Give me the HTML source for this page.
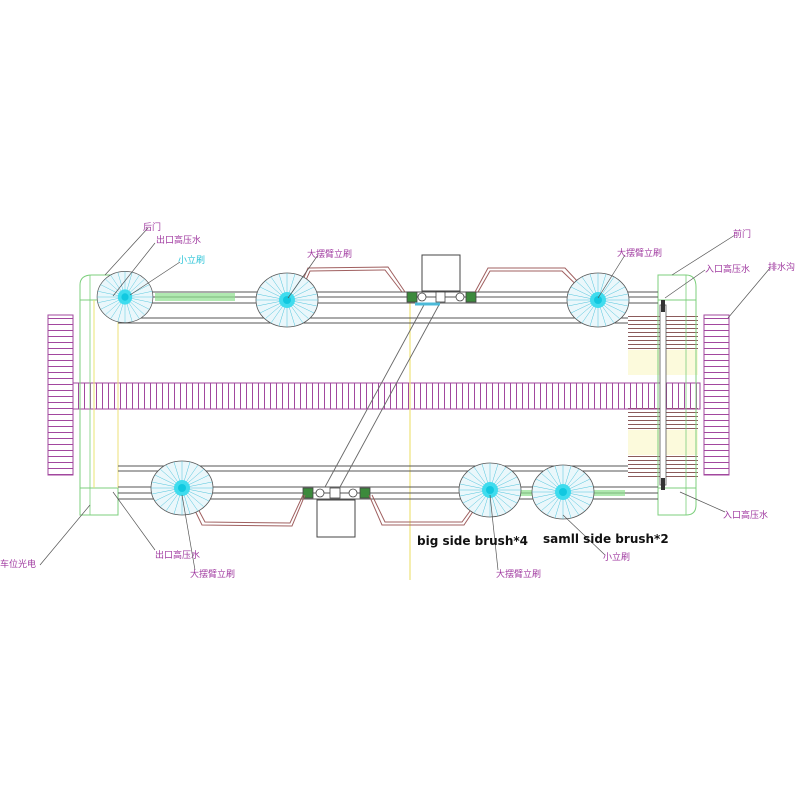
<!DOCTYPE html>
<html><head><meta charset="utf-8"><style>
html,body{margin:0;padding:0;background:#fff;width:800px;height:800px;overflow:hidden}
svg text{font-family:"Liberation Sans","Noto Sans CJK SC",sans-serif}
</style></head><body>
<svg width="800" height="800" viewBox="0 0 800 800" xmlns="http://www.w3.org/2000/svg">
<defs>
<pattern id="hh" width="10" height="6" patternUnits="userSpaceOnUse"><line x1="0" y1="0.5" x2="10" y2="0.5" stroke="#a2479e" stroke-width="1"/></pattern>
<pattern id="vv" width="6" height="10" patternUnits="userSpaceOnUse"><line x1="0.5" y1="0" x2="0.5" y2="10" stroke="#a2479e" stroke-width="1"/></pattern>
<pattern id="hb" width="10" height="4" patternUnits="userSpaceOnUse"><line x1="0" y1="0.5" x2="10" y2="0.5" stroke="#8b5a5a" stroke-width="1"/></pattern>
<g id="brush">
<ellipse cx="0" cy="0" rx="31" ry="27" fill="#eaf7fb" stroke="#555" stroke-width="0.8"/>
<g stroke="#4fc4dc" stroke-width="0.5">
<line x1="-31" y1="0" x2="31" y2="0"/><line x1="0" y1="-27" x2="0" y2="27"/>
<line x1="-27" y1="-13" x2="27" y2="13"/><line x1="-27" y1="13" x2="27" y2="-13"/>
<line x1="-16" y1="-23" x2="16" y2="23"/><line x1="-16" y1="23" x2="16" y2="-23"/>
<line x1="-8" y1="-26" x2="8" y2="26"/><line x1="-8" y1="26" x2="8" y2="-26"/>
<line x1="-30" y1="-6" x2="30" y2="6"/><line x1="-30" y1="6" x2="30" y2="-6"/>
<line x1="-22" y1="-19" x2="22" y2="19"/><line x1="-22" y1="19" x2="22" y2="-19"/>
</g>
<circle r="8" fill="#3fdcee"/><circle r="4" fill="#11c8e0"/>
</g>
</defs>

<rect x="48" y="315" width="25" height="160" fill="url(#hh)" stroke="#a2479e" stroke-width="1"/>
<rect x="704" y="315" width="25" height="160" fill="url(#hh)" stroke="#a2479e" stroke-width="1"/>
<rect x="628" y="350" width="70" height="25" fill="#fcfadc"/>
<rect x="628" y="430" width="70" height="25" fill="#fcfadc"/>
<rect x="628" y="316" width="70" height="34" fill="url(#hb)"/>
<rect x="628" y="405" width="70" height="25" fill="url(#hb)"/>
<rect x="628" y="455" width="70" height="22" fill="url(#hb)"/>
<rect x="73" y="383" width="627" height="26" fill="url(#vv)" stroke="#a2479e" stroke-width="1"/>

<path d="M80 515 V285 Q80 275 92 275 H118 V515 Z" fill="none" stroke="#7ccf7c" stroke-width="1"/>
<line x1="80" y1="300" x2="118" y2="300" stroke="#7ccf7c"/><line x1="80" y1="488" x2="118" y2="488" stroke="#7ccf7c"/>
<line x1="90" y1="275" x2="90" y2="515" stroke="#7ccf7c" stroke-width="0.8"/>
<line x1="94" y1="300" x2="94" y2="488" stroke="#e8e470" stroke-width="1"/>
<path d="M658 275 H686 Q696 275 696 287 V505 Q696 515 686 515 H658 Z" fill="none" stroke="#7ccf7c" stroke-width="1"/>
<line x1="686" y1="275" x2="686" y2="515" stroke="#7ccf7c" stroke-width="0.8"/>
<line x1="658" y1="300" x2="696" y2="300" stroke="#7ccf7c"/><line x1="658" y1="488" x2="696" y2="488" stroke="#7ccf7c"/>
<rect x="660" y="305" width="6" height="180" fill="#fff" stroke="#555" stroke-width="0.8"/>
<rect x="661" y="300" width="4" height="12" fill="#333"/><rect x="661" y="478" width="4" height="12" fill="#333"/>
<line x1="410" y1="300" x2="410" y2="580" stroke="#eee27a" stroke-width="1.2"/>
<line x1="118" y1="300" x2="118" y2="488" stroke="#eee27a"/>

<g stroke="#555" stroke-width="0.9">
<line x1="118" y1="292" x2="658" y2="292"/><line x1="118" y1="297" x2="658" y2="297"/><line x1="118" y1="303" x2="658" y2="303"/>
<line x1="118" y1="318" x2="628" y2="318"/><line x1="118" y1="323" x2="628" y2="323"/>
<line x1="118" y1="466" x2="628" y2="466"/><line x1="118" y1="471" x2="628" y2="471"/>
<line x1="118" y1="487" x2="658" y2="487"/><line x1="118" y1="493" x2="658" y2="493"/><line x1="118" y1="499" x2="658" y2="499"/>
</g>
<rect x="155" y="293" width="80" height="8" fill="#8fe08f" opacity="0.7"/>
<rect x="495" y="490" width="130" height="6" fill="#8fe08f" opacity="0.7"/>

<g stroke="#666" stroke-width="0.9">
<line x1="425" y1="303" x2="325" y2="487"/><line x1="440" y1="303" x2="340" y2="487"/>
</g>
<rect x="422" y="255" width="38" height="36" fill="#fff" stroke="#444"/>
<rect x="317" y="500" width="38" height="37" fill="#fff" stroke="#444"/>
<g fill="#fff" stroke="#444" stroke-width="0.8">
<rect x="407" y="292" width="10" height="10" fill="#3c8a3c"/><circle cx="422" cy="297" r="4"/><rect x="436" y="292" width="9" height="10"/><circle cx="460" cy="297" r="4"/><rect x="466" y="292" width="10" height="10" fill="#3c8a3c"/>
<rect x="303" y="488" width="10" height="10" fill="#3c8a3c"/><circle cx="320" cy="493" r="4"/><rect x="330" y="488" width="10" height="10"/><circle cx="353" cy="493" r="4"/><rect x="360" y="488" width="10" height="10" fill="#3c8a3c"/>
</g>
<line x1="415" y1="304" x2="440" y2="304" stroke="#4cbad8" stroke-width="3"/>

<g fill="none" stroke="#a06060" stroke-width="1">
<path d="M295 298 L308 268 L388 267 L405 292"/><path d="M298 298 L310 271 L385 270 L402 292"/>
<path d="M475 292 L488 268 L565 268 L592 297"/><path d="M478 292 L490 271 L562 271 L589 297"/>
<path d="M188 490 L205 522 L290 523 L303 495"/><path d="M185 490 L202 525 L292 526 L305 495"/>
<path d="M372 495 L385 522 L462 522 L484 492"/><path d="M369 495 L382 525 L464 525 L486 492"/>
</g>

<use href="#brush" transform="translate(125,297) scale(0.9,0.95)"/>
<use href="#brush" transform="translate(287,300)"/>
<use href="#brush" transform="translate(598,300)"/>
<use href="#brush" transform="translate(182,488)"/>
<use href="#brush" transform="translate(490,490)"/>
<use href="#brush" transform="translate(563,492)"/>

<g stroke="#555" stroke-width="0.7" fill="none">
<line x1="105" y1="275" x2="148" y2="228"/>
<line x1="113" y1="296" x2="155" y2="243"/>
<line x1="130" y1="295" x2="180" y2="262"/>
<line x1="288" y1="298" x2="318" y2="255"/>
<line x1="598" y1="298" x2="625" y2="255"/>
<line x1="672" y1="275" x2="735" y2="235"/>
<line x1="665" y1="298" x2="705" y2="270"/>
<line x1="728" y1="318" x2="770" y2="268"/>
<line x1="90" y1="505" x2="40" y2="565"/>
<line x1="113" y1="492" x2="155" y2="550"/>
<line x1="182" y1="495" x2="195" y2="570"/>
<line x1="490" y1="495" x2="498" y2="570"/>
<line x1="563" y1="515" x2="605" y2="555"/>
<line x1="680" y1="492" x2="725" y2="512"/>
</g>

<g font-size="9" fill="#a03aa0">
<text x="143" y="230">后门</text>
<text x="156" y="243">出口高压水</text>
<text x="178" y="263" fill="#2cc4d8">小立刷</text>
<text x="307" y="257">大摆臂立刷</text>
<text x="617" y="256">大摆臂立刷</text>
<text x="733" y="237">前门</text>
<text x="705" y="272">入口高压水</text>
<text x="768" y="270">排水沟</text>
<text x="0" y="567">车位光电</text>
<text x="155" y="558">出口高压水</text>
<text x="190" y="577">大摆臂立刷</text>
<text x="496" y="577">大摆臂立刷</text>
<text x="603" y="560">小立刷</text>
<text x="723" y="518">入口高压水</text>
</g>
<g font-size="12" font-weight="bold" fill="#111">
<text x="417" y="545" style="font-family:'DejaVu Sans',sans-serif">big side brush*4</text>
<text x="543" y="543" style="font-family:'DejaVu Sans',sans-serif">samll side brush*2</text>
</g>
</svg>
</body></html>
